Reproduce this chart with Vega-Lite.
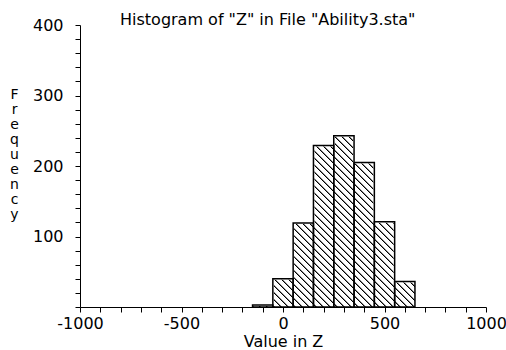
{
  "$schema": "https://vega.github.io/schema/vega-lite/v6.json",
  "width": 406,
  "height": 282,
  "autosize": {"type": "none"},
  "padding": {"left": 80, "top": 25, "right": 20, "bottom": 43},
  "background": "white",
  "title": {"text": "Histogram of \"Z\" in File \"Ability3.sta\"", "anchor": "start", "dx": 40, "dy": 24, "font": "DejaVu Sans", "fontSize": 16, "fontWeight": "normal", "color": "black", "baseline": "alphabetic", "offset": 0, "frame": "group"},
  "data": {"values": [
    {"bin_start": -150, "bin_end": -50, "count": 3},
    {"bin_start": -50, "bin_end": 50, "count": 40},
    {"bin_start": 50, "bin_end": 150, "count": 119},
    {"bin_start": 150, "bin_end": 250, "count": 229},
    {"bin_start": 250, "bin_end": 350, "count": 243},
    {"bin_start": 350, "bin_end": 450, "count": 205},
    {"bin_start": 450, "bin_end": 550, "count": 121},
    {"bin_start": 550, "bin_end": 650, "count": 36}
  ]},
  "config": {
    "view": {"stroke": null},
    "axis": {"domainColor": "black", "tickColor": "black", "labelColor": "black", "titleColor": "black", "labelFont": "DejaVu Sans", "labelFontSize": 16, "titleFont": "DejaVu Sans", "titleFontSize": 16, "titleFontWeight": "normal", "grid": false, "tickSize": 5, "domainWidth": 1, "tickWidth": 1, "labelFlush": false, "labelOverlap": false},
    "axisX": {"labelPadding": 3, "titlePadding": 2},
    "axisY": {"titleAngle": 0, "titleAlign": "center", "titleBaseline": "top", "titleX": -66, "titleY": 62, "titleLineHeight": 15, "titleFontSize": 14, "labelPadding": 12}
  },
  "encoding": {
    "x": {"field": "bin_start", "type": "quantitative", "scale": {"domain": [-1000, 1000], "nice": false, "zero": false}, "title": "Value in Z",
      "axis": {"values": [-1000, -900, -800, -700, -600, -500, -400, -300, -200, -100, 0, 100, 200, 300, 400, 500, 600, 700, 800, 900, 1000],
        "labelExpr": "datum.value % 500 === 0 ? '' + datum.value : ''", "labelOverlap": false, "labelFlush": false}},
    "x2": {"field": "bin_end"},
    "y": {"field": "count", "type": "quantitative", "scale": {"domain": [0, 400], "nice": false}, "title": ["F", "r", "e", "q", "u", "e", "n", "c", "y"],
      "axis": {"values": [0, 20, 40, 60, 80, 100, 120, 140, 160, 180, 200, 220, 240, 260, 280, 300, 320, 340, 360, 380, 400],
        "labelExpr": "datum.value % 100 === 0 && datum.value > 0 ? '' + datum.value : ''", "labelOverlap": false, "labelFlush": false}}
  },
  "layer": [
    {
      "mark": {"type": "rect", "stroke": null, "fill": {"gradient": "linear", "x1": 0, "y1": 1, "x2": 0.9726, "y2": -0.02599, "stops": [
        {"offset": 0, "color": "#000"}, {"offset": 0.003, "color": "#000"}, {"offset": 0.0055, "color": "#fff"}, {"offset": 0.020977, "color": "#fff"},
        {"offset": 0.020977, "color": "#000"}, {"offset": 0.023977, "color": "#000"}, {"offset": 0.026477, "color": "#fff"}, {"offset": 0.041954, "color": "#fff"},
        {"offset": 0.041954, "color": "#000"}, {"offset": 0.044954, "color": "#000"}, {"offset": 0.047454, "color": "#fff"}, {"offset": 0.062931, "color": "#fff"},
        {"offset": 0.062931, "color": "#000"}, {"offset": 0.065931, "color": "#000"}, {"offset": 0.068431, "color": "#fff"}, {"offset": 0.083908, "color": "#fff"},
        {"offset": 0.083908, "color": "#000"}, {"offset": 0.086908, "color": "#000"}, {"offset": 0.089408, "color": "#fff"}, {"offset": 0.104885, "color": "#fff"},
        {"offset": 0.104885, "color": "#000"}, {"offset": 0.107885, "color": "#000"}, {"offset": 0.110385, "color": "#fff"}, {"offset": 0.125861, "color": "#fff"},
        {"offset": 0.125861, "color": "#000"}, {"offset": 0.128861, "color": "#000"}, {"offset": 0.131361, "color": "#fff"}, {"offset": 0.146838, "color": "#fff"},
        {"offset": 0.146838, "color": "#000"}, {"offset": 0.149838, "color": "#000"}, {"offset": 0.152338, "color": "#fff"}, {"offset": 0.167815, "color": "#fff"},
        {"offset": 0.167815, "color": "#000"}, {"offset": 0.170815, "color": "#000"}, {"offset": 0.173315, "color": "#fff"}, {"offset": 0.188792, "color": "#fff"},
        {"offset": 0.188792, "color": "#000"}, {"offset": 0.191792, "color": "#000"}, {"offset": 0.194292, "color": "#fff"}, {"offset": 0.209769, "color": "#fff"},
        {"offset": 0.209769, "color": "#000"}, {"offset": 0.212769, "color": "#000"}, {"offset": 0.215269, "color": "#fff"}, {"offset": 0.230746, "color": "#fff"},
        {"offset": 0.230746, "color": "#000"}, {"offset": 0.233746, "color": "#000"}, {"offset": 0.236246, "color": "#fff"}, {"offset": 0.251723, "color": "#fff"},
        {"offset": 0.251723, "color": "#000"}, {"offset": 0.254723, "color": "#000"}, {"offset": 0.257223, "color": "#fff"}, {"offset": 0.2727, "color": "#fff"},
        {"offset": 0.2727, "color": "#000"}, {"offset": 0.2757, "color": "#000"}, {"offset": 0.2782, "color": "#fff"}, {"offset": 0.293677, "color": "#fff"},
        {"offset": 0.293677, "color": "#000"}, {"offset": 0.296677, "color": "#000"}, {"offset": 0.299177, "color": "#fff"}, {"offset": 0.314654, "color": "#fff"},
        {"offset": 0.314654, "color": "#000"}, {"offset": 0.317654, "color": "#000"}, {"offset": 0.320154, "color": "#fff"}, {"offset": 0.33563, "color": "#fff"},
        {"offset": 0.33563, "color": "#000"}, {"offset": 0.33863, "color": "#000"}, {"offset": 0.34113, "color": "#fff"}, {"offset": 0.356607, "color": "#fff"},
        {"offset": 0.356607, "color": "#000"}, {"offset": 0.359607, "color": "#000"}, {"offset": 0.362107, "color": "#fff"}, {"offset": 0.377584, "color": "#fff"},
        {"offset": 0.377584, "color": "#000"}, {"offset": 0.380584, "color": "#000"}, {"offset": 0.383084, "color": "#fff"}, {"offset": 0.398561, "color": "#fff"},
        {"offset": 0.398561, "color": "#000"}, {"offset": 0.401561, "color": "#000"}, {"offset": 0.404061, "color": "#fff"}, {"offset": 0.419538, "color": "#fff"},
        {"offset": 0.419538, "color": "#000"}, {"offset": 0.422538, "color": "#000"}, {"offset": 0.425038, "color": "#fff"}, {"offset": 0.440515, "color": "#fff"},
        {"offset": 0.440515, "color": "#000"}, {"offset": 0.443515, "color": "#000"}, {"offset": 0.446015, "color": "#fff"}, {"offset": 0.461492, "color": "#fff"},
        {"offset": 0.461492, "color": "#000"}, {"offset": 0.464492, "color": "#000"}, {"offset": 0.466992, "color": "#fff"}, {"offset": 0.482469, "color": "#fff"},
        {"offset": 0.482469, "color": "#000"}, {"offset": 0.485469, "color": "#000"}, {"offset": 0.487969, "color": "#fff"}, {"offset": 0.503446, "color": "#fff"},
        {"offset": 0.503446, "color": "#000"}, {"offset": 0.506446, "color": "#000"}, {"offset": 0.508946, "color": "#fff"}, {"offset": 0.524423, "color": "#fff"},
        {"offset": 0.524423, "color": "#000"}, {"offset": 0.527423, "color": "#000"}, {"offset": 0.529923, "color": "#fff"}, {"offset": 0.545399, "color": "#fff"},
        {"offset": 0.545399, "color": "#000"}, {"offset": 0.548399, "color": "#000"}, {"offset": 0.550899, "color": "#fff"}, {"offset": 0.566376, "color": "#fff"},
        {"offset": 0.566376, "color": "#000"}, {"offset": 0.569376, "color": "#000"}, {"offset": 0.571876, "color": "#fff"}, {"offset": 0.587353, "color": "#fff"},
        {"offset": 0.587353, "color": "#000"}, {"offset": 0.590353, "color": "#000"}, {"offset": 0.592853, "color": "#fff"}, {"offset": 0.60833, "color": "#fff"},
        {"offset": 0.60833, "color": "#000"}, {"offset": 0.61133, "color": "#000"}, {"offset": 0.61383, "color": "#fff"}, {"offset": 0.629307, "color": "#fff"},
        {"offset": 0.629307, "color": "#000"}, {"offset": 0.632307, "color": "#000"}, {"offset": 0.634807, "color": "#fff"}, {"offset": 0.650284, "color": "#fff"},
        {"offset": 0.650284, "color": "#000"}, {"offset": 0.653284, "color": "#000"}, {"offset": 0.655784, "color": "#fff"}, {"offset": 0.671261, "color": "#fff"},
        {"offset": 0.671261, "color": "#000"}, {"offset": 0.674261, "color": "#000"}, {"offset": 0.676761, "color": "#fff"}, {"offset": 0.692238, "color": "#fff"},
        {"offset": 0.692238, "color": "#000"}, {"offset": 0.695238, "color": "#000"}, {"offset": 0.697738, "color": "#fff"}, {"offset": 0.713215, "color": "#fff"},
        {"offset": 0.713215, "color": "#000"}, {"offset": 0.716215, "color": "#000"}, {"offset": 0.718715, "color": "#fff"}, {"offset": 0.734192, "color": "#fff"},
        {"offset": 0.734192, "color": "#000"}, {"offset": 0.737192, "color": "#000"}, {"offset": 0.739692, "color": "#fff"}, {"offset": 0.755168, "color": "#fff"},
        {"offset": 0.755168, "color": "#000"}, {"offset": 0.758168, "color": "#000"}, {"offset": 0.760668, "color": "#fff"}, {"offset": 0.776145, "color": "#fff"},
        {"offset": 0.776145, "color": "#000"}, {"offset": 0.779145, "color": "#000"}, {"offset": 0.781645, "color": "#fff"}, {"offset": 0.797122, "color": "#fff"},
        {"offset": 0.797122, "color": "#000"}, {"offset": 0.800122, "color": "#000"}, {"offset": 0.802622, "color": "#fff"}, {"offset": 0.818099, "color": "#fff"},
        {"offset": 0.818099, "color": "#000"}, {"offset": 0.821099, "color": "#000"}, {"offset": 0.823599, "color": "#fff"}, {"offset": 0.839076, "color": "#fff"},
        {"offset": 0.839076, "color": "#000"}, {"offset": 0.842076, "color": "#000"}, {"offset": 0.844576, "color": "#fff"}, {"offset": 0.860053, "color": "#fff"},
        {"offset": 0.860053, "color": "#000"}, {"offset": 0.863053, "color": "#000"}, {"offset": 0.865553, "color": "#fff"}, {"offset": 0.88103, "color": "#fff"},
        {"offset": 0.88103, "color": "#000"}, {"offset": 0.88403, "color": "#000"}, {"offset": 0.88653, "color": "#fff"}, {"offset": 0.902007, "color": "#fff"},
        {"offset": 0.902007, "color": "#000"}, {"offset": 0.905007, "color": "#000"}, {"offset": 0.907507, "color": "#fff"}, {"offset": 0.922984, "color": "#fff"},
        {"offset": 0.922984, "color": "#000"}, {"offset": 0.925984, "color": "#000"}, {"offset": 0.928484, "color": "#fff"}, {"offset": 0.943961, "color": "#fff"},
        {"offset": 0.943961, "color": "#000"}, {"offset": 0.946961, "color": "#000"}, {"offset": 0.949461, "color": "#fff"}, {"offset": 0.964937, "color": "#fff"},
        {"offset": 0.964937, "color": "#000"}, {"offset": 0.967937, "color": "#000"}, {"offset": 0.970437, "color": "#fff"}, {"offset": 0.985914, "color": "#fff"},
        {"offset": 0.985914, "color": "#000"}, {"offset": 0.988914, "color": "#000"}, {"offset": 0.991414, "color": "#fff"}, {"offset": 1, "color": "#fff"}
      ]}},
      "encoding": {
        "x": {"aggregate": "min", "field": "bin_start", "type": "quantitative", "scale": {"domain": [-1000, 1000], "nice": false, "zero": false}, "title": "Value in Z",
          "axis": {"values": [-1000, -900, -800, -700, -600, -500, -400, -300, -200, -100, 0, 100, 200, 300, 400, 500, 600, 700, 800, 900, 1000],
            "labelExpr": "datum.value % 500 === 0 ? '' + datum.value : ''", "labelOverlap": false, "labelFlush": false}},
        "x2": {"aggregate": "max", "field": "bin_end"},
        "y": {"aggregate": "max", "field": "count", "type": "quantitative", "scale": {"domain": [0, 400], "nice": false}, "title": ["F", "r", "e", "q", "u", "e", "n", "c", "y"],
          "axis": {"values": [0, 20, 40, 60, 80, 100, 120, 140, 160, 180, 200, 220, 240, 260, 280, 300, 320, 340, 360, 380, 400],
            "labelExpr": "datum.value % 100 === 0 && datum.value > 0 ? '' + datum.value : ''", "labelOverlap": false, "labelFlush": false}},
        "y2": {"datum": 0}
      }
    },
    {
      "transform": [{"joinaggregate": [{"op": "max", "field": "count", "as": "maxc"}]}],
      "mark": {"type": "rect", "fill": "white", "stroke": "white", "strokeWidth": 2},
      "encoding": {
        "y2": {"field": "maxc"}
      }
    },
    {
      "mark": {"type": "rect", "fill": "white", "fillOpacity": 0, "stroke": "black", "strokeWidth": 1.5},
      "encoding": {
        "y2": {"datum": 0}
      }
    }
  ]
}
